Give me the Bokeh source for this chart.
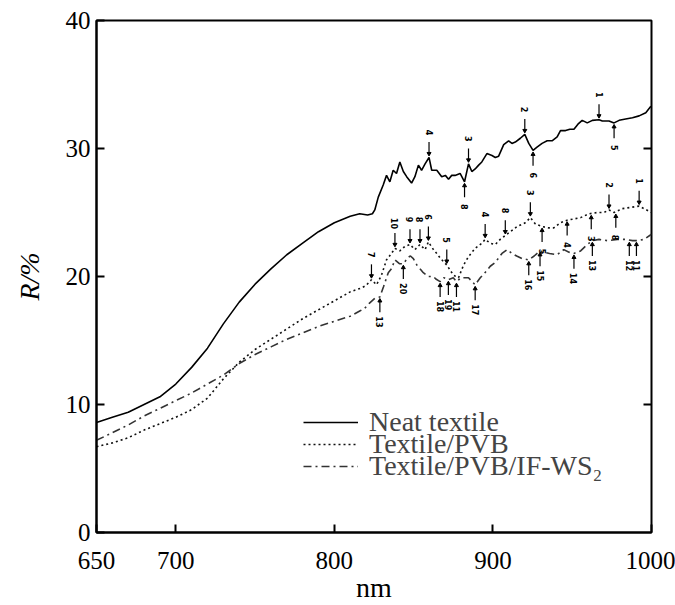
import math
from bokeh.plotting import figure
from bokeh.models import Range1d, FixedTicker, Legend, LegendItem
from bokeh.core.properties import value
from bokeh.embed import file_html
from bokeh.resources import INLINE

# ---------------- data ----------------
neat_nm = [650, 660, 670, 680, 690, 700, 710, 720, 730, 740, 750, 760, 770, 780, 790,
           800, 810, 816, 821, 824, 825.5, 827.7, 830.8, 832.9, 835, 837.1, 839.2,
           841.3, 843.5, 845.6, 848.7, 850.8, 853, 855, 857.2, 859.7, 861.4, 864.6,
           867.7, 870, 872, 874, 876.1, 879.3, 882.1, 884.6, 886.7, 888.8, 891, 893,
           896.2, 899.4, 901.5, 903.6, 906.8, 909.9, 912, 914.1, 917.3, 920.1, 922.6,
           925.3, 927.8, 931, 934.2, 937.3, 940.5, 942.6, 945.8, 948.5, 951.1, 953.6,
           956.3, 959.5, 962.7, 966.9, 969, 973.2, 976.4, 979.6, 983.7, 988, 992.2,
           996.4, 999.6]
neat_R = [8.6, 9.0, 9.4, 10.0, 10.6, 11.6, 12.9, 14.4, 16.3, 18.0, 19.4, 20.6, 21.7,
          22.6, 23.5, 24.2, 24.7, 24.9, 24.8, 24.9, 25.2, 26.2, 27.15, 27.9, 27.4,
          28.3, 28.05, 28.95, 28.2, 27.8, 27.3, 27.8, 28.7, 28.3, 28.8, 29.3, 28.3,
          28.3, 27.8, 27.9, 27.6, 27.9, 27.9, 28.05, 27.4, 28.8, 28.2, 28.4, 28.7,
          28.95, 29.6, 29.45, 29.3, 29.4, 30.3, 30.6, 30.4, 30.5, 30.8, 31.1, 30.4,
          29.85, 30.1, 30.4, 30.6, 30.6, 30.9, 31.4, 31.4, 31.5, 31.5, 31.9, 32.2,
          32.0, 32.2, 32.25, 32.15, 32.15, 32.0, 32.2, 32.3, 32.4, 32.55, 32.8, 33.3]

pvb_nm = [650, 660, 670, 680, 690, 700, 710, 720, 730, 740, 750, 760, 770, 780, 790,
          800, 810, 817, 820, 823.4, 826.6, 829.7, 832.9, 836, 838.2, 841.3, 844.5,
          847.7, 850.8, 854, 857.2, 859.3, 862.5, 864.6, 867, 870.9, 873, 875.1,
          878.3, 881.5, 884.6, 888.8, 893, 895.1, 898.3, 901.5, 904.6, 907.8, 911,
          915.2, 920.4, 923.6, 926.8, 931, 935.2, 938.4, 942.6, 946.8, 951.1, 955.3,
          960.6, 965.8, 970, 973.2, 976.4, 981.6, 986.9, 992.2, 995.3, 1000]
pvb_R = [6.7, 7.0, 7.4, 8.0, 8.5, 9.0, 9.6, 10.5, 12.0, 13.3, 14.3, 15.1, 15.9, 16.7,
         17.4, 18.1, 18.8, 19.1, 19.3, 19.75, 19.35, 20.1, 21.3, 21.8, 22.2, 22.0,
         22.35, 22.5, 22.1, 22.5, 22.1, 22.7, 22.1, 21.8, 21.4, 20.9, 20.5, 20.1,
         19.9, 20.9, 21.55, 22.2, 22.6, 22.9, 22.6, 22.5, 22.9, 23.2, 23.5, 23.9,
         24.2, 24.6, 24.1, 23.9, 23.8, 23.8, 24.2, 24.4, 24.5, 24.6, 24.9, 25.0,
         25.0, 25.2, 25.0, 25.3, 25.4, 25.5, 25.3, 25.0]

ws2_nm = [650, 660, 670, 680, 690, 700, 710, 720, 730, 740, 750, 760, 770, 780, 790,
          800, 810, 816, 819, 822, 825.5, 828.7, 831, 834, 836, 838.2, 841, 843.5,
          846.6, 848, 849.8, 852, 854, 856.1, 859.3, 862.5, 864, 866.7, 869, 871.9,
          875, 877, 880, 884.6, 888.8, 892, 895, 898.3, 901.5, 905.7, 908.9, 912,
          915, 918.4, 922.6, 926, 929.7, 932, 935.7, 940.5, 944.7, 948, 951.1, 955.3,
          959.5, 962.7, 966.9, 972.2, 978.5, 983.7, 988, 991.2, 995.3, 1000]
ws2_R = [7.2, 7.8, 8.4, 9.1, 9.7, 10.3, 10.9, 11.6, 12.3, 13.2, 13.9, 14.5, 15.1, 15.6,
         16.1, 16.5, 16.9, 17.3, 17.5, 17.9, 18.3, 18.4, 19.2, 20.3, 20.6, 21.3, 21.0,
         21.0, 21.5, 21.6, 21.4, 20.9, 20.6, 20.3, 20.0, 20.0, 19.8, 19.6, 19.9,
         19.75, 19.9, 19.6, 19.9, 19.9, 19.35, 19.9, 20.3, 20.8, 21.1, 21.8, 22.1,
         21.8, 21.6, 21.4, 21.3, 21.6, 22.0, 21.9, 21.8, 21.7, 22.1, 21.9, 21.8,
         22.0, 22.5, 22.8, 22.9, 22.8, 22.9, 22.9, 22.8, 22.8, 22.9, 23.3]

# numbered peak markers: wavelength, curve value, label, side (+1 above / -1 below)
ann_nm = [859.7, 884.6, 882.1, 920.1, 925.3, 966.9, 976.4,
          823.4, 838.2, 847.7, 854.0, 859.3, 870.9, 895.1, 907.8, 923.6, 931.0,
          946.8, 962.0, 973.2, 977.5, 992.2,
          828.7, 843.5, 866.7, 871.9, 877.0, 888.8, 922.6, 929.7, 951.1, 962.7,
          986.0, 990.5]
ann_R = [29.3, 28.8, 27.4, 31.1, 29.85, 32.25, 32.0,
         19.75, 22.2, 22.5, 22.5, 22.7, 20.9, 22.9, 23.2, 24.6, 23.9,
         24.4, 24.9, 25.2, 25.0, 25.5,
         18.4, 21.0, 19.6, 19.75, 19.6, 19.35, 21.3, 22.0, 21.8, 22.8,
         22.8, 22.8]
ann_text = ["4", "3", "8", "2", "6", "1", "5",
            "7", "10", "9", "8", "6", "5", "4", "8", "3", "5",
            "4", "3", "2", "8", "1",
            "13", "20", "18", "19", "11", "17", "16", "15", "14", "13",
            "12", "11"]
ann_side = [1, 1, -1, 1, -1, 1, -1,
            1, 1, 1, 1, 1, 1, 1, 1, 1, -1,
            -1, -1, 1, -1, 1,
            -1, -1, -1, -1, -1, -1, -1, -1, -1, -1,
            -1, -1]

series_names = ["Neat textile", "Textile/PVB", "Textile/PVB/IF-WS\u2082"]

x_ticks = [650, 700, 800, 900, 1000]
y_ticks = [0, 10, 20, 30, 40]
right_ticks = [10, 20, 30]

SERIF = "Liberation Serif"
FS = "25px"      # tick labels
FL = "28px"      # axis titles and legend

p = figure(width=675, height=605, output_backend="svg", toolbar_location=None,
           x_range=Range1d(650, 1000), y_range=Range1d(0, 40),
           min_border_left=96, min_border_right=24, min_border_top=20,
           min_border_bottom=72)
p.background_fill_color = "white"
p.border_fill_color = "white"
p.grid.visible = False
p.outline_line_color = "black"
p.outline_line_width = 2

for ax in (p.xaxis[0], p.yaxis[0]):
    ax.axis_line_width = 2
    ax.major_tick_line_width = 2
    ax.major_tick_in = 8
    ax.major_tick_out = 0
    ax.minor_tick_line_color = None
    ax.major_label_text_font = SERIF
    ax.major_label_text_font_size = FS
    ax.major_label_text_color = "black"
    ax.axis_label_text_font = SERIF
    ax.axis_label_text_font_size = FL
    ax.axis_label_text_color = "black"

p.xaxis[0].ticker = FixedTicker(ticks=x_ticks)
p.yaxis[0].ticker = FixedTicker(ticks=y_ticks)
p.xaxis[0].axis_label = "nm"
p.xaxis[0].axis_label_text_font_style = "normal"
p.xaxis[0].axis_label_standoff = 0
p.xaxis[0].major_label_standoff = 19
p.yaxis[0].major_label_standoff = 6
p.yaxis[0].axis_label = "R/%"
p.yaxis[0].axis_label_text_font_style = "italic"
p.yaxis[0].axis_label_standoff = 18

# right-hand inward ticks
p.ray(x=[1000] * len(right_ticks), y=right_ticks, length=8, length_units="screen",
      angle=math.pi, line_color="black", line_width=2)

r_neat = p.line(neat_nm, neat_R, line_color="black", line_width=1.6)
r_pvb = p.line(pvb_nm, pvb_R, line_color="#111111", line_width=1.6, line_dash="2 3")
r_ws2 = p.line(ws2_nm, ws2_R, line_color="#333333", line_width=1.6,
               line_dash="8 4 2 4")

# numbered arrows
tip_y = [r + s * 0.3 for r, s in zip(ann_R, ann_side)]
tail_y = [r + s * 1.2 for r, s in zip(ann_R, ann_side)]
lab_y = [r + s * 1.95 for r, s in zip(ann_R, ann_side)]
p.segment(x0=ann_nm, y0=tip_y, x1=ann_nm, y1=tail_y, line_color="black",
          line_width=1.2)
down = [i for i, s in enumerate(ann_side) if s > 0]
up = [i for i, s in enumerate(ann_side) if s < 0]
p.scatter([ann_nm[i] for i in down], [tip_y[i] for i in down],
          marker="inverted_triangle", size=4, color="black")
p.scatter([ann_nm[i] for i in up], [tip_y[i] for i in up],
          marker="triangle", size=4, color="black")
p.text(x=ann_nm, y=lab_y, text=ann_text, angle=-math.pi / 2,
       text_font=value("DejaVu Sans"), text_font_size="8px",
       text_font_style="bold", text_align="center", text_baseline="middle",
       text_color="black")

# legend: one single-item legend per row for exact row spacing
legend_rows_y = [94, 72, 50]
for name, rend, ly in zip(series_names, [r_neat, r_pvb, r_ws2], legend_rows_y):
    lg = Legend(items=[LegendItem(label=name, renderers=[rend])],
                location=(207, ly), orientation="vertical",
                label_text_font=SERIF, label_text_font_size=FL,
                glyph_width=55, glyph_height=20, label_height=20,
                label_standoff=11, spacing=0, padding=0, margin=0,
                border_line_color=None, background_fill_alpha=0)
    p.add_layout(lg, "center")

open("out.html", "w").write(file_html(p, INLINE))
